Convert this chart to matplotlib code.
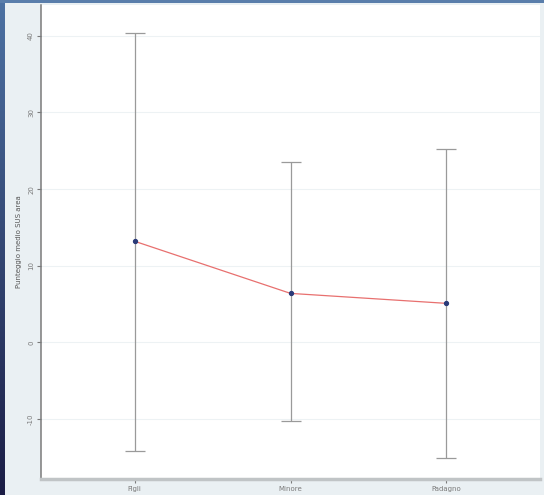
import numpy as np
import matplotlib.pyplot as plt

gruppi = ["Figli", "Minore", "Padagno"]
media = [13.2, 6.4, 5.1]
ci_alto = [40.4, 23.5, 25.2]
ci_basso = [-14.2, -10.3, -15.0]
y_ticks = [-10, 0, 10, 20, 30, 40]

x = np.arange(1, len(gruppi) + 1)
err = [np.array(media) - np.array(ci_basso), np.array(ci_alto) - np.array(media)]

fig = plt.figure(figsize=(5.44, 4.95), dpi=100)
fig.patch.set_facecolor('#eaf0f3')

# striscia blu della slide a sinistra / in alto
strip = fig.add_axes([0, 0, 5 / 544, 1])
grad = np.linspace(0, 1, 256).reshape(-1, 1)
strip.imshow(grad, aspect='auto', cmap=plt.matplotlib.colors.LinearSegmentedColormap.from_list(
    'bg', ['#4d72a3', '#1b1d45']), extent=[0, 1, 0, 1])
strip.axis('off')
top = fig.add_axes([0, 1 - 3 / 495, 1, 3 / 495])
top.set_facecolor('#5a7eab')
top.set_xticks([])
top.set_yticks([])
for s in top.spines.values():
    s.set_visible(False)

ax = fig.add_axes([41 / 544, 16 / 495, 499 / 544, 474 / 495])
ax.set_facecolor('white')

ax.errorbar(x, media, yerr=err, fmt='none', ecolor='#9a9a9a', elinewidth=0.9,
            capsize=7, capthick=0.9, zorder=2)
ax.plot(x, media, color='#e8706f', linewidth=0.9, zorder=3)
ax.plot(x, media, 'o', color='#2a3a78', markersize=2.8, zorder=4)

ax.set_xlim(0.4, 3.6)
ax.set_ylim(-17.8, 44.0)
ax.set_xticks(x)
ax.set_xticklabels(gruppi, fontsize=5, color='#555555')
ax.set_yticks(y_ticks)
ax.set_yticklabels([str(v) for v in y_ticks], rotation=90, fontsize=5,
                   color='#555555', va='center')
ax.grid(axis='y', color='#edf2f4', linewidth=0.8)
ax.set_axisbelow(True)

ax.spines['top'].set_visible(False)
ax.spines['right'].set_visible(False)
ax.spines['left'].set_color('#7a7a7a')
ax.spines['left'].set_linewidth(1.1)
ax.spines['bottom'].set_color('#c0c4c6')
ax.spines['bottom'].set_linewidth(2.5)
ax.tick_params(axis='both', colors='#7a7a7a', length=3, width=0.8, pad=2)

ax.set_ylabel("Punteggio medio SUS area", fontsize=5, color='#555555', labelpad=4)

fig.savefig("out.png", dpi=100, facecolor=fig.get_facecolor())
